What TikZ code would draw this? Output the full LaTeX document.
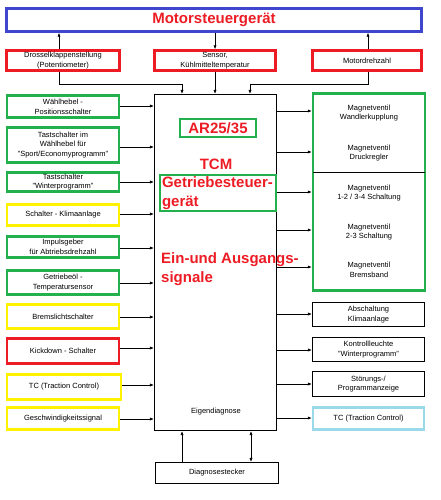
\documentclass[tikz,border=0pt]{standalone}
\usepackage{fontspec}
\setmainfont{Liberation Sans}
\usepackage{xcolor}
\usetikzlibrary{arrows.meta, positioning, calc}
\definecolor{boxred}{RGB}{237,28,36}
\definecolor{boxgreen}{RGB}{34,177,76}
\definecolor{boxblue}{RGB}{63,72,204}
\definecolor{boxyellow}{RGB}{255,242,0}
\definecolor{boxcyan}{RGB}{153,217,234}
\newcommand{\smalltxt}{\fontsize{7.5}{9.8}\selectfont}
\newcommand{\bigtxt}{\fontsize{15}{19}\selectfont\bfseries}
\tikzset{
  % signal boxes
  sigbox/.style={rectangle, draw=#1, line width=2.4pt, fill=white, minimum width=112pt, inner sep=1pt, text centered, align=center, font=\smalltxt},
  sigbox/.default={boxgreen},
  plainbox/.style={rectangle, draw=black, line width=1.1pt, fill=white, minimum width=112pt, inner sep=1pt, text centered, align=center, font=\smalltxt},
  label/.style={inner sep=0pt, align=center, font=\smalltxt},
  redlabel/.style={inner sep=0pt, align=left, text=boxred, font=\bigtxt},
  arrow/.style={-{Latex[length=4pt, width=3.2pt]}, line width=0.7pt},
}
\begin{document}
\begin{tikzpicture}[x=1pt, y=-1pt]
  \useasboundingbox (0,0) rectangle (441,500);

  % Motor control unit and its inputs
  \node[sigbox=boxblue, minimum width=415pt, minimum height=23pt, font=\bigtxt, text=boxred] (mot) at (214,20) {Motorsteuergerät};
  \node[sigbox=boxred, minimum width=113pt, minimum height=20pt] (dro) at (63,60.5) {Drosselklappenstellung\\(Potentiometer)};
  \node[sigbox=boxred, minimum width=121pt, minimum height=20pt] (sen) at (215,60.5) {Sensor,\\Kühlmitteltemperatur};
  \node[sigbox=boxred, minimum width=109pt, minimum height=20pt] (mdz) at (367,60.5) {Motordrehzahl};

  % Transmission control unit
  \node[plainbox, minimum width=122pt, minimum height=336pt] (tcm) at (215.5,262.5) {};
  \node[sigbox, minimum width=76pt, minimum height=18pt, line width=2pt, font=\bigtxt, text=boxred] (ar) at (218,128) {AR25/35};
  \node[redlabel] (tcmlbl) at (216,164) {TCM};
  \node[sigbox, minimum width=116pt, minimum height=36pt, line width=2pt, fill=none, text width=112pt, align=left, font=\bigtxt, text=boxred] (gsg) at (218,193) {Getriebesteuer-\\gerät};
  \node[redlabel, anchor=west] (eas) at (161,269) {Ein-und Ausgangs-\\signale};
  \node[label] (eig) at (216,412) {Eigendiagnose};
  \node[plainbox, minimum width=123pt, minimum height=21pt] (diag) at (217,473) {Diagnosestecker};

  % Inputs on the left
  \node[sigbox, minimum height=22pt] (whl) at (63,106.5) {Wählhebel -\\Positionsschalter};
  \node[sigbox, minimum height=35pt] (tas) at (63,145) {Tastschalter im\\Wählhebel für\\"Sport/Economyprogramm"};
  \node[sigbox, minimum height=19pt] (win) at (63,182) {Tastschalter\\"Winterprogramm"};
  \node[sigbox=boxyellow, minimum height=21pt] (kli) at (63,215) {Schalter - Klimaanlage};
  \node[sigbox, minimum height=21pt] (imp) at (63,247) {Impulsgeber\\für Abtriebsdrehzahl};
  \node[sigbox, minimum height=24pt] (oel) at (63,282.5) {Getriebeöl -\\Temperatursensor};
  \node[sigbox=boxyellow, minimum height=24pt] (brm) at (63,316.5) {Bremslichtschalter};
  \node[sigbox=boxred, minimum height=25pt] (kick) at (63,351) {Kickdown - Schalter};
  \node[sigbox=boxyellow, minimum width=114pt, minimum height=25pt] (tcl) at (64,387) {TC (Traction Control)};
  \node[sigbox=boxyellow, minimum height=22pt] (ges) at (63,418.5) {Geschwindigkeitssignal};

  % Outputs on the right
  \node[sigbox, minimum width=112pt, minimum height=197pt] (mv) at (369,192) {};
  \node[label] (mva) at (369,113) {Magnetventil\\Wandlerkupplung};
  \node[label] (mvb) at (369,153) {Magnetventil\\Druckregler};
  \node[label] (mvc) at (369,193) {Magnetventil\\1-2 / 3-4 Schaltung};
  \node[label] (mvd) at (369,232) {Magnetventil\\2-3 Schaltung};
  \node[label] (mve) at (369,270) {Magnetventil\\Bremsband};
  \draw[line width=0.8pt] ([xshift=1.2pt]mv.west |- 0,172) -- ([xshift=-1.2pt]mv.east |- 0,172);
  \node[plainbox, minimum width=112pt, minimum height=24pt] (abs) at (368.5,314.5) {Abschaltung\\Klimaanlage};
  \node[plainbox, minimum width=112pt, minimum height=24pt] (kon) at (368.5,349.5) {Kontrollleuchte\\"Winterprogramm"};
  \node[plainbox, minimum width=112pt, minimum height=25pt] (stp) at (368.5,384) {Störungs-/\\Programmanzeige};
  \node[sigbox=boxcyan, minimum width=111pt, minimum height=22pt] (tcr) at (368.5,418.5) {TC (Traction Control)};

  % Arrows at the top
  \draw[arrow] ([xshift=-4pt]dro.north) -- ([xshift=-4pt]dro.north |- mot.south);
  \draw[arrow] (mot.south -| sen.north) -- (sen.north);
  \draw[arrow] ([xshift=1pt]mdz.north) -- ([xshift=1pt]mdz.north |- mot.south);
  \draw[arrow] ([xshift=-4pt]dro.south) |- (182,84) -- (182,0 |- tcm.north);
  \draw[arrow] (sen.south) -- (sen.south |- tcm.north);
  \draw[arrow] ([xshift=1pt]mdz.south) |- (250,84) -- (250,0 |- tcm.north);

  % Arrows from the inputs
  \foreach \src/\yy in {whl/106, tas/147, win/182, kli/214, imp/248, oel/283, brm/317, kick/348, tcl/385, ges/419}
    \draw[arrow] (\src.east |- 0,\yy) -- (tcm.west |- 0,\yy);

  % Arrows to the outputs
  \foreach \dst/\yy in {mva/111, mvb/152, mvc/192, mvd/230, mve/267}
    \draw[arrow] (tcm.east |- 0,\yy) -- (mv.west |- 0,\yy);
  \foreach \dst/\yy in {abs/314, kon/350, stp/384, tcr/418}
    \draw[arrow] (tcm.east |- 0,\yy) -- (\dst.west |- 0,\yy);

  % Diagnosis plug
  \draw[arrow] (182,0 |- diag.north) -- (182,0 |- tcm.south);
  \draw[arrow, {Latex[length=4pt, width=3.2pt]}-{Latex[length=4pt, width=3.2pt]}] (251,0 |- tcm.south) -- (251,0 |- diag.north);
\end{tikzpicture}
\end{document}
